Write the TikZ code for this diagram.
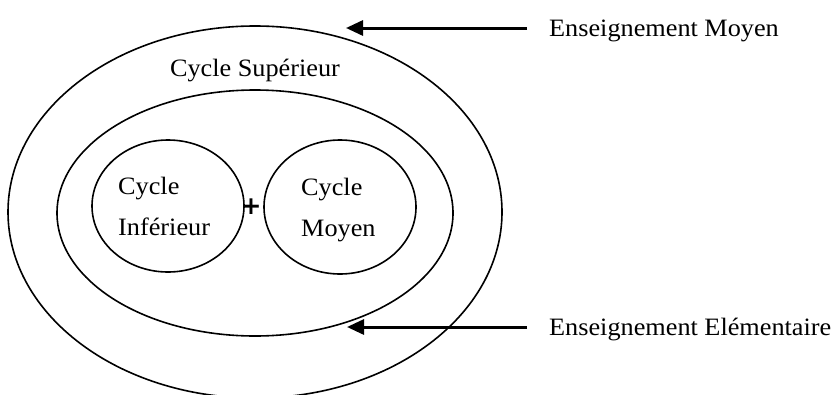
\documentclass[tikz,border=0pt]{standalone}
\usepackage{fontspec}
\setmainfont[FakeStretch=1.05]{Liberation Serif}
\newfontfamily\plusfont{DejaVu Sans Bold}
\usetikzlibrary{shapes.geometric,arrows.meta}
\begin{document}
\begin{tikzpicture}[x=1pt,y=-1pt,
  ring/.style={draw, ellipse, line width=1.6pt, inner sep=0pt},
  lbl/.style={inner sep=0pt, font=\fontsize{25}{28}\selectfont},
  arr/.style={line width=3pt, -{Triangle[length=17pt,width=15pt]}}]
\useasboundingbox (0,0) rectangle (834,394);
% rings
\node[ring, minimum width=494pt, minimum height=372pt] (outer) at (255,212) {};
\node[ring, minimum width=396pt, minimum height=246pt] (middle) at (255,213) {};
\node[ring, minimum width=152pt, minimum height=132pt] (inf) at (168,206) {};
\node[ring, minimum width=152pt, minimum height=134pt] (moy) at (340,207) {};
% texts
\node[lbl, anchor=base] (sup) at (255,76) {Cycle Supérieur};
\node[lbl, anchor=base west] (infA) at (118,194) {Cycle};
\node[lbl, anchor=base west] (infB) at (118,235) {Inférieur};
\node[lbl, anchor=base west] (moyA) at (301,195) {Cycle};
\node[lbl, anchor=base west] (moyB) at (301,236) {Moyen};
\node[inner sep=0pt, font=\plusfont\fontsize{25}{25}\selectfont] (plus) at (251,207) {+};
% side labels
\node[lbl, anchor=base west] (em) at (549,36) {Enseignement Moyen};
\node[lbl, anchor=base west] (ee) at (549,335) {Enseignement Elémentaire};
\coordinate (emS) at (527,28);
\coordinate (emT) at (346,28);
\coordinate (eeS) at (527,327);
\coordinate (eeT) at (347,327);
\draw[arr] (emS) -- (emT);
\draw[arr] (eeS) -- (eeT);
\end{tikzpicture}
\end{document}
